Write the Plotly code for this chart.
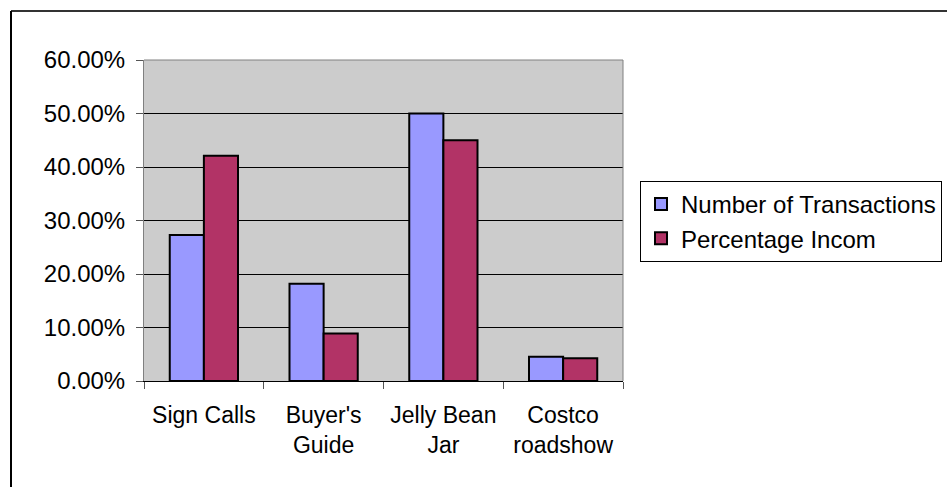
import plotly.graph_objects as go

categories = ["Sign Calls", "Buyer's<br>Guide", "Jelly Bean<br>Jar", "Costco<br>roadshow"]
num_transactions = [0.2727, 0.1818, 0.5000, 0.0455]
pct_income = [0.4210, 0.0890, 0.4500, 0.0425]
y_ticks = [0, 0.1, 0.2, 0.3, 0.4, 0.5, 0.6]
y_labels = ["0.00%", "10.00%", "20.00%", "30.00%", "40.00%", "50.00%", "60.00%"]

W, H = 947, 487
L, R, T, B = 144, 623, 60, 381
pw, ph = R - L, B - T

def px(x):
    return (x - L) / pw

def py(y):
    return (B - y) / ph

font = dict(family="Liberation Sans, Arial, sans-serif", size=24, color="black")

fig = go.Figure()
fig.add_trace(go.Bar(x=categories, y=num_transactions, name="Number of Transactions",
                     marker=dict(color="#9999FF", line=dict(color="black", width=2))))
fig.add_trace(go.Bar(x=categories, y=pct_income, name="Percentage Incom",
                     marker=dict(color="#B23366", line=dict(color="black", width=2))))

fig.update_layout(
    width=W, height=H,
    margin=dict(l=L, r=W - R, t=T, b=H - B, pad=0, autoexpand=False),
    paper_bgcolor="white",
    plot_bgcolor="#CCCCCC",
    barmode="group",
    bargap=0.43,
    bargroupgap=0,
    font=font,
    showlegend=True,
    legend=dict(x=px(640), y=py(181), xanchor="left", yanchor="top",
                bgcolor="white", bordercolor="black", borderwidth=1,
                font=dict(family=font["family"], size=24, color="black"),
                itemsizing="constant", tracegroupgap=0),
    xaxis=dict(type="category", showgrid=False, showline=True, linecolor="black", linewidth=1,
               ticks="outside", tickson="boundaries", ticklen=7, tickcolor="#555555",
               ticklabelstandoff=13, tickfont=dict(size=23), mirror=False, zeroline=False),
    yaxis=dict(range=[0, 0.6], tickvals=y_ticks, ticktext=y_labels,
               showgrid=True, gridcolor="black", gridwidth=1,
               showline=True, linecolor="#808080", linewidth=1,
               ticks="outside", ticklen=7, tickcolor="#555555",
               ticklabelstandoff=6, tickfont=dict(size=24), zeroline=False),
    shapes=[
        dict(type="line", xref="paper", yref="paper", x0=px(11), x1=px(W + 5), y0=py(11), y1=py(11),
             line=dict(color="#333333", width=2)),
        dict(type="line", xref="paper", yref="paper", x0=px(11), x1=px(11), y0=py(11), y1=py(H + 5),
             line=dict(color="black", width=2)),
        dict(type="line", xref="paper", yref="paper", x0=0, x1=1, y0=1, y1=1,
             line=dict(color="#808080", width=1)),
        dict(type="line", xref="paper", yref="paper", x0=1, x1=1, y0=0, y1=1,
             line=dict(color="#808080", width=1)),
    ],
)

fig.write_html("out.html", config={"displayModeBar": False},
               post_script="document.body.style.margin='0';document.body.style.overflow='hidden';")
